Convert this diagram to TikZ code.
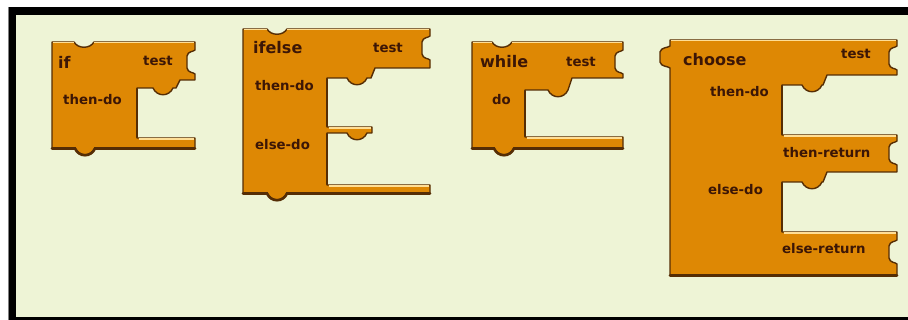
\documentclass[tikz,border=0pt]{standalone}
\usepackage{fontspec}
\setmainfont{DejaVu Sans}
\definecolor{blk}{RGB}{222,136,4}
\definecolor{edge}{RGB}{85,45,5}
\definecolor{txt}{RGB}{60,22,6}
\definecolor{bgc}{RGB}{238,244,214}
\definecolor{hil}{RGB}{255,222,150}
\newcommand{\notchT}[2]{-- (#1,#2) .. controls ({#1+4},{#2+7}) and ({#1+16},{#2+7}) .. ({#1+20},#2)}
\newcommand{\tabB}[2]{-- ({#1+20},#2) .. controls ({#1+16},{#2+9}) and ({#1+4},{#2+9}) .. (#1,#2)}
\newcommand{\socketR}[2]{-- (#1,#2) .. controls ({#1-2},{#2+2}) and ({#1-7},{#2+1}) .. ({#1-8},{#2+6}) -- ({#1-8},{#2+18}) .. controls ({#1-7},{#2+23}) and ({#1-2},{#2+22}) .. (#1,{#2+24})}
\newcommand{\plugL}[2]{-- (#1,#2) .. controls ({#1-2},{#2-2}) and ({#1-9},{#2-1}) .. ({#1-10},{#2-6}) -- ({#1-10},{#2-16}) .. controls ({#1-9},{#2-21}) and ({#1-2},{#2-20}) .. (#1,{#2-22})}
\begin{document}
\begin{tikzpicture}[x=1pt,y=-1pt,
  blockshape/.style={fill=blk,draw=edge,line width=1.4pt,line join=round},
  shadowline/.style={draw=edge,line width=2.6pt,line cap=round},
  hl/.style={draw=hil,line width=1.4pt},
  title/.style={font=\fontsize{16}{18}\selectfont\bfseries,text=txt,inner sep=0pt},
  lbl/.style={font=\fontsize{13.3}{15}\selectfont\bfseries,text=txt,inner sep=0pt}]
\useasboundingbox (0,0) rectangle (908,320);
\fill[white] (0,0) rectangle (908,320);
\fill[black] (8,7) rectangle (908,320);
\draw[gray,line width=0.8pt] (8.4,7) -- (8.4,320);
\fill[bgc] (16,15) rectangle (908,317);

% if block
\path[blockshape] (52,42) \notchT{74}{42} -- (195,42) \socketR{195}{50} -- (195,80) -- (180,80) -- (176,88) \tabB{153}{88} -- (137,88) -- (137,138) -- (195,138) -- (195,148) \tabB{75}{148} -- (52,148) -- cycle;
\draw[shadowline] (195,148.5) \tabB{75}{148.5} -- (52,148.5);
\draw[shadowline] (137,89) -- (137,137);
\draw[hl] (52.7,42.7) -- (74,42.7);
\draw[hl] (94,42.7) -- (194,42.7);
\draw[hl] (138.5,139.2) -- (194,139.2);
\node[title,anchor=west] (ift) at (58,62) {if};
\node[lbl,anchor=east] (ifs) at (173,61) {test};
\node[lbl,anchor=west] (ifd) at (63,100) {then-do};

% ifelse block
\path[blockshape] (243,29) \notchT{267}{29} -- (430,29) \socketR{430}{36} -- (430,68) -- (375,68) -- (371,78) \tabB{347}{78} -- (327,78) -- (327,127) -- (372,127) -- (372,133) \tabB{347}{133} -- (327,133) -- (327,185) -- (430,185) -- (430,193) \tabB{267}{193} -- (243,193) -- cycle;
\draw[shadowline] (430,193.5) \tabB{267}{193.5} -- (243,193.5);
\draw[shadowline] (327,79) -- (327,126);
\draw[shadowline] (327,134) -- (327,184);
\draw[hl] (243.7,29.7) -- (267,29.7);
\draw[hl] (287,29.7) -- (429,29.7);
\draw[hl] (328.5,128.2) -- (371,128.2);
\draw[hl] (328.5,186.2) -- (429,186.2);
\node[title,anchor=west] (iet) at (253,48) {ifelse};
\node[lbl,anchor=east] (ies) at (403,48) {test};
\node[lbl,anchor=west] (ied) at (255,86) {then-do};
\node[lbl,anchor=west] (iee) at (255,145) {else-do};

% while block
\path[blockshape] (472,42) \notchT{492}{42} -- (623,42) \socketR{623}{50} -- (623,78) -- (572,78) -- (568,90) \tabB{548}{90} -- (525,90) -- (525,137) -- (623,137) -- (623,148) \tabB{494}{148} -- (472,148) -- cycle;
\draw[shadowline] (623,148.5) \tabB{494}{148.5} -- (472,148.5);
\draw[shadowline] (525,91) -- (525,136);
\draw[hl] (472.7,42.7) -- (492,42.7);
\draw[hl] (512,42.7) -- (622,42.7);
\draw[hl] (526.5,138.2) -- (622,138.2);
\node[title,anchor=west] (wt) at (480,62) {while};
\node[lbl,anchor=east] (ws) at (596,62) {test};
\node[lbl,anchor=west] (wd) at (492,100) {do};

% choose block
\path[blockshape] (670,40) -- (897,40) \socketR{897}{46} -- (897,75) -- (827,75) -- (823,85) \tabB{802}{85} -- (782,85) -- (782,135) -- (897,135) \socketR{897}{141} -- (897,172) -- (827,172) -- (823,182) \tabB{802}{182} -- (782,182) -- (782,232) -- (897,232) \socketR{897}{240} -- (897,275) -- (670,275) \plugL{670}{68} -- cycle;
\draw[shadowline] (897,275.5) -- (670,275.5);
\draw[shadowline] (782,86) -- (782,134);
\draw[shadowline] (782,183) -- (782,231);
\draw[hl] (670.7,40.7) -- (896,40.7);
\draw[hl] (783.5,136.2) -- (896,136.2);
\draw[hl] (783.5,233.2) -- (896,233.2);
\node[title,anchor=west] (ct) at (683,60) {choose};
\node[lbl,anchor=east] (cs) at (871,54) {test};
\node[lbl,anchor=west] (cd) at (710,92) {then-do};
\node[lbl,anchor=west] (cr) at (783,153) {then-return};
\node[lbl,anchor=west] (ce) at (708,190) {else-do};
\node[lbl,anchor=west] (cer) at (782,249) {else-return};
\end{tikzpicture}
\end{document}
